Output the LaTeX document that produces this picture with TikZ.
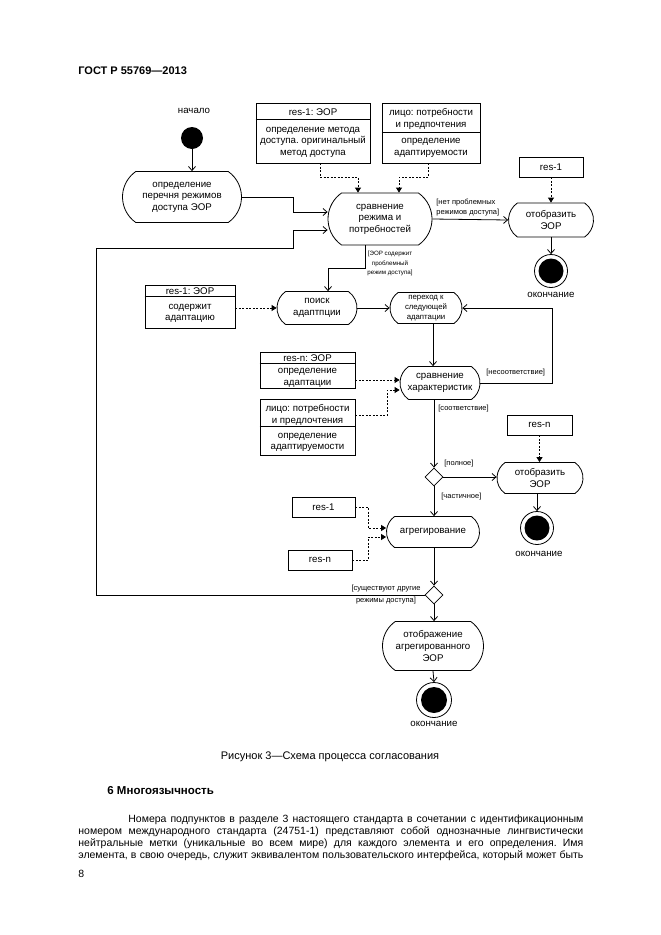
\documentclass[tikz,border=0pt]{standalone}
\usepackage{fontspec}
\setmainfont{Liberation Sans}
\usetikzlibrary{shapes.misc,shapes.geometric,arrows.meta,calc}
\newcommand{\dfont}{\fontsize{9.7}{11.6}\selectfont}
\newcommand{\lfont}{\fontsize{7.5}{9.5}\selectfont}
\newcommand{\sfont}{\fontsize{7.8}{10}\selectfont}
\frenchspacing
\begin{document}
\begin{tikzpicture}[x=1pt,y=-1pt,line width=0.8pt,
  act/.style={rounded rectangle, rounded rectangle arc length=110, draw, inner sep=0pt, align=center, font=\dfont},
  obj/.style={draw, rectangle, inner sep=0pt},
  txt/.style={inner sep=0pt, align=center, font=\dfont},
  lbl/.style={inner sep=0pt, align=left, font=\lfont},
  flow/.style={-{Straight Barb[length=4pt,width=7pt]}},
  dep/.style={dash pattern=on 2pt off 1.5pt, -{Triangle[length=5pt,width=6pt]}},
  dec/.style={diamond, draw, minimum width=18pt, minimum height=18pt, inner sep=0pt},
  endo/.style={circle, draw, minimum size=33pt, inner sep=0pt},
  endi/.style={circle, fill=black, minimum size=25pt, inner sep=0pt},
  body/.style={anchor=base west, inner sep=0pt, font=\fontsize{10.5}{12}\selectfont}]
\fill[white] (0,0) rectangle (661,935);
\useasboundingbox (0,0) rectangle (661,935);

% page text
\node[anchor=base west, inner sep=0pt, font=\bfseries\fontsize{11}{13}\selectfont] (hdr) at (78,74) {ГОСТ Р 55769—2013};
\node[anchor=base, inner sep=0pt, font=\fontsize{11}{12}\selectfont] (cap) at (330,759) {Рисунок 3—Схема процесса согласования};
\node[anchor=base west, inner sep=0pt, font=\bfseries\fontsize{11.5}{13}\selectfont] (h6) at (107,794) {6 Многоязычность};
\node[body] (p1) at (128,822.5) {\makebox[455pt][s]{Номера подпунктов в разделе 3 настоящего стандарта в сочетании с идентификационным}};
\node[body] (p2) at (78,834.5) {\makebox[505pt][s]{номером международного стандарта (24751-1) представляют собой однозначные лингвистически}};
\node[body] (p3) at (78,846.5) {\makebox[505pt][s]{нейтральные метки (уникальные во всем мире) для каждого элемента и его определения. Имя}};
\node[body] (p4) at (78,858.5) {\makebox[505pt][s]{элемента, в свою очередь, служит эквивалентом пользовательского интерфейса, который может быть}};
\node[body] (pg) at (78,877) {8};

% start
\node[circle, fill=black, minimum size=22pt, inner sep=0pt] (start) at (192,138) {};
\node[txt] (startl) at (194,111) {начало};
\node[act, minimum width=119pt, minimum height=51pt] (n1) at (182,197) {определение\\перечня режимов\\доступа ЭОР};

% object box A
\node[obj, minimum width=114pt, minimum height=60pt] (A) at (313,133) {};
\draw ([yshift=-17pt]A.north west) -- ([yshift=-17pt]A.north east);
\node[txt] (Ah) at (313,112) {res-1: ЭОР};
\node[txt] (Ab) at (313,142) {определение метода\\доступа. оригинальный\\метод доступа};

% object box B
\node[obj, minimum width=98pt, minimum height=60pt] (B) at (431,133) {};
\draw ([yshift=-30pt]B.north west) -- ([yshift=-30pt]B.north east);
\node[txt] (Bh) at (431,119) {лицо: потребности\\и предпочтения};
\node[txt] (Bb) at (431,148) {определение\\адаптируемости};

\node[act, minimum width=104pt, minimum height=52pt] (n2) at (380,219) {сравнение\\режима и\\потребностей};
\node[act, minimum width=85pt, minimum height=34pt] (n3) at (551,220) {отобразить\\ЭОР};
\node[obj, minimum width=64pt, minimum height=20pt, font=\dfont] (R1) at (551,167) {res-1};
\node[endo] (end1) at (551,271) {};
\node[endi] (end1i) at (551,271) {};
\node[txt] (end1l) at (551,295) {окончание};

\node[lbl, anchor=west] (L1) at (436,207.5) {[нет проблемных\\режимов доступа]};
\node[lbl, align=center, font=\fontsize{6.2}{9.5}\selectfont] (L2) at (390,263.5) {[ЭОР содержит\\проблемный\\режим доступа]};

\node[act, minimum width=80pt, minimum height=33pt] (n4) at (317,308) {поиск\\адаптпции};
\node[obj, minimum width=90pt, minimum height=43pt] (C) at (190,306.5) {};
\draw ([yshift=-12pt]C.north west) -- ([yshift=-12pt]C.north east);
\node[txt] (Ch) at (190,291) {res-1: ЭОР};
\node[txt] (Cb) at (190,313.5) {содержит\\адаптацию};

\node[act, minimum width=72pt, minimum height=31pt, font=\sfont] (n5) at (426,308) {переход к\\следующей\\адаптации};

\node[act, minimum width=80pt, minimum height=33pt] (n6) at (440,383) {сравнение\\характеристик};
\node[obj, minimum width=95pt, minimum height=36pt] (D) at (307.5,370) {};
\draw ([yshift=-12pt]D.north west) -- ([yshift=-12pt]D.north east);
\node[txt] (Dh) at (307.5,358) {res-n: ЭОР};
\node[txt] (Db) at (307.5,378) {определение\\адаптации};
\node[obj, minimum width=95pt, minimum height=56pt] (E) at (307.5,427) {};
\draw ([yshift=-28pt]E.north west) -- ([yshift=-28pt]E.north east);
\node[txt] (Eh) at (307.5,415) {лицо: потребности\\и предлочтения};
\node[txt] (Eb) at (307.5,442.5) {определение\\адаптируемости};

\node[lbl, anchor=west] (L3) at (486,373) {[несоответствие]};
\node[lbl, anchor=west] (L4) at (438,409) {[соответствие]};
\node[dec] (dia1) at (434,477) {};
\node[lbl, anchor=west] (L5) at (444,464) {[полное]};
\node[lbl, anchor=west] (L6) at (441,497) {[частичное]};
\node[act, minimum width=86pt, minimum height=31pt] (n7) at (540,478) {отобразить\\ЭОР};
\node[obj, minimum width=65pt, minimum height=20pt, font=\dfont] (R2) at (539.5,425) {res-n};
\node[endo] (end2) at (537,528) {};
\node[endi] (end2i) at (537,528) {};
\node[txt] (end2l) at (539,554) {окончание};

\node[act, minimum width=93pt, minimum height=31pt] (n8) at (433,532) {агрегирование};
\node[obj, minimum width=63pt, minimum height=20pt, font=\dfont] (R3) at (323.5,507) {res-1};
\node[obj, minimum width=64pt, minimum height=20pt, font=\dfont] (R4) at (320,560) {res-n};

\node[dec] (dia2) at (434,595) {};
\node[lbl, align=center, font=\fontsize{7.5}{12.5}\selectfont] (L7) at (386,594.5) {[существуют другие\\режимы доступа]};
\node[act, minimum width=101pt, minimum height=49pt] (n9) at (433,646) {отображение\\агрегированного\\ЭОР};
\node[circle, draw, minimum size=35pt, inner sep=0pt] (end3) at (434,700) {};
\node[circle, fill=black, minimum size=26pt, inner sep=0pt] (end3i) at (434,700) {};
\node[txt] (end3l) at (434,724) {окончание};

% helper coordinates
\coordinate (lp1) at (96,248);
\coordinate (lp2) at (293,230);
\coordinate (t1) at ([yshift=3pt]n6.west);
\coordinate (t2) at ([yshift=-7pt]n6.west);
\coordinate (t3) at ([yshift=4pt]n8.west);
\coordinate (t4) at ([yshift=-5pt]n8.west);

% connectors
\draw[flow] (start.south) -- (start.south |- n1.north);
\draw[flow] (n1.east) -- ++(51,0) |- ([yshift=7pt]n2.west);
\draw[flow] (dia2.west) -| (lp1) -| (lp2) -- ([yshift=-11pt]n2.west);
\draw[dep] ([xshift=7pt]A.south) -- ++(0,14) -| ([xshift=-22pt]n2.north);
\draw[dep] ([xshift=-3pt]B.south) -- ++(0,14) -| ([xshift=19pt]n2.north);
\draw[flow] (n2.east) -- (n3.west);
\draw[dep] (R1.south) -- (n3.north);
\draw[flow] (n3.south) -- (end1.north);
\draw[flow] ([xshift=-15pt]n2.south) -- ++(0,23) -| ([xshift=11pt]n4.north);
\draw[dep] (C.east |- n4.west) -- (n4.west);
\draw[flow] (n4.east) -- (n5.west);
\draw[flow] ([xshift=7pt]n5.south) -- ([xshift=7pt]n5.south |- n6.north);
\draw[flow] (n6.east) -- ++(72,0) |- (n5.east);
\draw[dep] (D.east |- t1) -- (t1);
\draw[dep] ([yshift=12pt]E.east) -- ++(32,0) |- (t2);
\draw[flow] (dia1.north |- n6.south) -- (dia1.north);
\draw[flow] (dia1.east) -- (dia1.east -| n7.west);
\draw[dep] (R2.south) -- (R2.south |- n7.north);
\draw[flow] (end2.north |- n7.south) -- (end2.north);
\draw[flow] (dia1.south) -- (dia1.south |- n8.north);
\draw[dep] (R3.east) -- ++(13,0) |- (t3);
\draw[dep] (R4.east) -- ++(16,0) |- (t4);
\draw[flow] (dia2.north |- n8.south) -- (dia2.north);
\draw[flow] (dia2.south) -- (dia2.south |- n9.north);
\draw[flow] (n9.south) -- (end3.north);
\end{tikzpicture}
\end{document}
